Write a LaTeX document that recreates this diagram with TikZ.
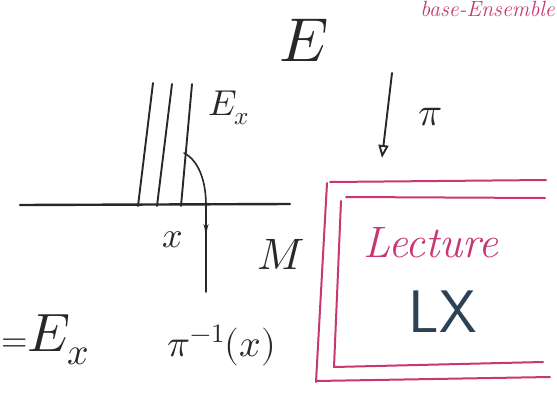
\documentclass[tikz,border=0pt]{standalone}
\usepackage{unicode-math}
\usetikzlibrary{arrows.meta}
\definecolor{inkc}{RGB}{40,40,40}
\definecolor{pinkc}{RGB}{200,55,115}
\definecolor{slatec}{RGB}{45,65,85}
\tikzset{
  pen/.style={draw=inkc, line width=2.4pt, line cap=round},
  thinpen/.style={draw=inkc, line width=1.9pt, line cap=round},
  pinkpen/.style={draw=pinkc, line width=2pt, line cap=round},
  lbl/.style={inner sep=0pt, text=inkc},
}
\newcommand{\fs}[1]{\fontsize{#1}{#1}\selectfont}
\begin{document}
\begin{tikzpicture}[x=1pt,y=-1pt]
\useasboundingbox (0,0) rectangle (557,394);
\clip (0,0) rectangle (557,394);
\fill[white] (0,0) rectangle (557,394);

% base space M
\coordinate (m1) at (20,205);
\coordinate (m2) at (290,204);
\draw[pen] (m1) -- (m2);

% fibres
\coordinate (f1a) at (138,206); \coordinate (f1b) at (153,83);
\coordinate (f2a) at (157,206); \coordinate (f2b) at (172,84);
\coordinate (f3a) at (181,206); \coordinate (f3b) at (192,84);
\draw[thinpen] (f1a) -- (f1b);
\draw[thinpen] (f2a) -- (f2b);
\draw[thinpen] (f3a) -- (f3b);

% curve to pi^{-1}(x)
\coordinate (c0) at (184,153);
\coordinate (c1) at (206,205);
\coordinate (c2) at (206,292);
\draw[thinpen, line width=1.6pt] (c0) .. controls (198,160) and (206,180) .. (c1) -- (c2);
\coordinate (a0) at (206,214);
\coordinate (a1) at (206,234);
\draw[thinpen, line width=1.6pt, -{Stealth[length=10pt,width=5pt]}] (a0) -- (a1);

% projection arrow pi
\coordinate (p0) at (392,73);
\coordinate (p1) at (382,158);
\draw[thinpen, -{Triangle[open,length=13pt,width=10pt]}] (p0) -- (p1);

% labels
\node[lbl] (E) at (304,40) {\fs{62}$E$};
\node[lbl] (Ex) at (229,108) {\fs{36}$E_x$};
\node[lbl] (xl) at (173,240) {\fs{36}$x$};
\node[lbl] (M) at (281,254) {\fs{44}$M$};
\node[lbl] (pi) at (430,117) {\fs{40}$\pi$};
\node[lbl] (pix) at (222,345) {\fs{38}$\pi^{-1}(x)$};
\node[lbl, anchor=west] (eqEx) at (1,340) {{\fs{34}$=$}{\fs{54}$E_x$}};

% pink frame
\coordinate (o1) at (546,180); \coordinate (o2) at (330,182);
\coordinate (o3) at (327,183); \coordinate (o4) at (316,382);
\coordinate (o5) at (316,381); \coordinate (o6) at (550,377);
\draw[pinkpen] (o1) -- (o2);
\draw[pinkpen] (o3) -- (o4);
\draw[pinkpen] (o5) -- (o6);
\coordinate (i1) at (545,198); \coordinate (i2) at (346,197);
\coordinate (i3) at (341,201); \coordinate (i4) at (334,367);
\coordinate (i5) at (334,367); \coordinate (i6) at (543,362);
\draw[pinkpen] (i1) -- (i2);
\draw[pinkpen] (i3) -- (i4);
\draw[pinkpen] (i5) -- (i6);

\node[inner sep=0pt, text=pinkc] (lec) at (431,243) {\fs{44}\itshape Lecture};
\node[inner sep=0pt, text=slatec] (LX) at (443,312) {\fs{60}\sffamily LX};

% pink text at top right
\node[inner sep=0pt, text=pinkc, anchor=north east] (top) at (555,1) {\fs{22}\itshape base-Ensemble};
\end{tikzpicture}
\end{document}
